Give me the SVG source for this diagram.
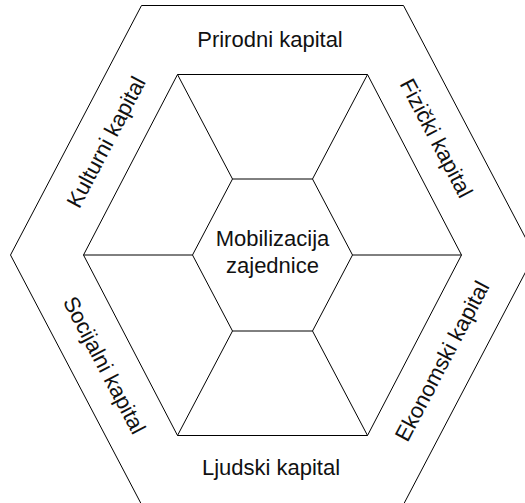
<svg xmlns="http://www.w3.org/2000/svg" width="525" height="503" viewBox="0 0 525 503">
<style>
.shape{fill:none;stroke:#000;stroke-width:1}
.lbl{font-family:"Liberation Sans",Arial,sans-serif;font-size:22px;fill:#111;text-anchor:middle}
</style>
<rect width="525" height="503" fill="#fff"/>
<g id="outer-ring">
<polygon class="shape" points="141.5,5.5 403.5,5.5 534.5,255 403.5,504.5 141.5,504.5 10.5,255"/>
</g>
<g id="inner-ring">
<polygon class="shape" points="177.5,74.5 367.5,74.5 461.5,255 367.5,435.5 177.5,435.5 83.5,255"/>
</g>
<g id="connectors">
<line class="shape" x1="232.5" y1="179" x2="177.5" y2="74.5"/>
<line class="shape" x1="312.5" y1="179" x2="367.5" y2="74.5"/>
<line class="shape" x1="192.5" y1="255" x2="83.5" y2="255"/>
<line class="shape" x1="352.5" y1="255" x2="461.5" y2="255"/>
<line class="shape" x1="232.5" y1="331" x2="177.5" y2="435.5"/>
<line class="shape" x1="312.5" y1="331" x2="367.5" y2="435.5"/>
</g>
<g id="center">
<polygon class="shape" points="232.5,179 312.5,179 352.5,255 312.5,331 232.5,331 192.5,255"/>
<text class="lbl" x="272.5" y="246">Mobilizacija</text>
<text class="lbl" x="272.5" y="273">zajednice</text>
</g>
<g id="prirodni">
<text class="lbl" x="270" y="46.5">Prirodni kapital</text>
</g>
<g id="fizicki">
<text class="lbl" transform="translate(436.5,138) rotate(62.3)" dy="0.35em">Fizički kapital</text>
</g>
<g id="ekonomski">
<text class="lbl" transform="translate(442,361) rotate(-62.3)" dy="0.35em">Ekonomski kapital</text>
</g>
<g id="ljudski">
<text class="lbl" x="271" y="475">Ljudski kapital</text>
</g>
<g id="socijalni">
<text class="lbl" transform="translate(104.5,365) rotate(62.3)" dy="0.35em">Socijalni kapital</text>
</g>
<g id="kulturni">
<text class="lbl" transform="translate(106,142) rotate(-62.3)" dy="0.35em">Kulturni kapital</text>
</g>
</svg>
